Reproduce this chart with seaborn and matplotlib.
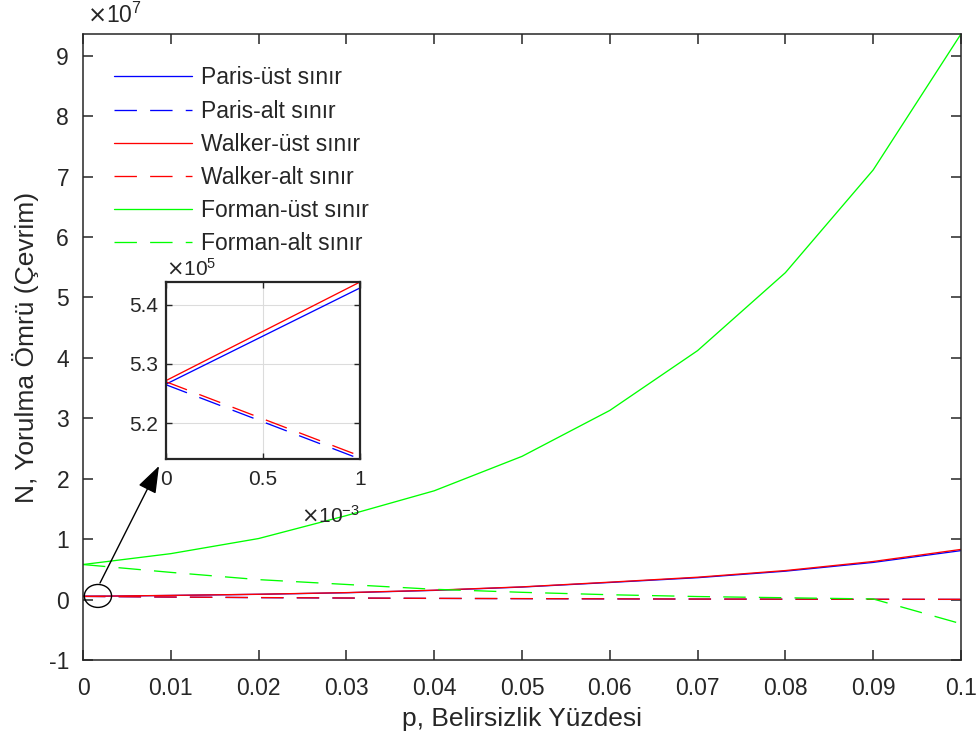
import numpy as np
import pandas as pd
import matplotlib
matplotlib.use("Agg")
import matplotlib.pyplot as plt
import seaborn as sns
from matplotlib.patches import Ellipse
from matplotlib.ticker import FuncFormatter

# ---------------- data ----------------
p = [0.0, 0.01, 0.02, 0.03, 0.04, 0.05, 0.06, 0.07, 0.08, 0.09, 0.10]
paris_ust = [0.0527, 0.068, 0.087, 0.113, 0.152, 0.207, 0.283, 0.362, 0.470, 0.615, 0.810]
paris_alt = [0.0526, 0.041, 0.032, 0.025, 0.019, 0.015, 0.011, 0.008, 0.006, 0.004, 0.003]
walker_ust = [0.0527, 0.069, 0.088, 0.115, 0.155, 0.210, 0.288, 0.370, 0.480, 0.630, 0.830]
walker_alt = [0.0527, 0.042, 0.033, 0.026, 0.020, 0.016, 0.012, 0.009, 0.007, 0.005, 0.004]
forman_ust = [0.58, 0.76, 1.01, 1.39, 1.80, 2.37, 3.13, 4.12, 5.41, 7.11, 9.36]
forman_alt = [0.58, 0.45, 0.33, 0.25, 0.17, 0.12, 0.08, 0.05, 0.03, 0.01, -0.40]
scale_main = 1e7

p_zoom = [0.0, 0.001]
paris_ust_z = [5.266, 5.428]
paris_alt_z = [5.265, 5.140]
walker_ust_z = [5.272, 5.438]
walker_alt_z = [5.270, 5.145]
scale_zoom = 1e5

labels = ["Paris-üst sınır", "Paris-alt sınır", "Walker-üst sınır",
          "Walker-alt sınır", "Forman-üst sınır", "Forman-alt sınır"]
xticks = [0, 0.01, 0.02, 0.03, 0.04, 0.05, 0.06, 0.07, 0.08, 0.09, 0.1]
yticks = [-1, 0, 1, 2, 3, 4, 5, 6, 7, 8, 9]
zxticks = [0, 0.5, 1]
zyticks = [5.2, 5.3, 5.4]

# ---------------- style ----------------
sns.set_theme(style="white")
plt.rcParams['font.family'] = ['Liberation Sans', 'DejaVu Sans']
plt.rcParams['axes.unicode_minus'] = False
plt.rcParams['axes.edgecolor'] = '#262626'
plt.rcParams['xtick.color'] = '#262626'
plt.rcParams['ytick.color'] = '#262626'
plt.rcParams['text.color'] = '#262626'
plt.rcParams['axes.labelcolor'] = '#262626'

BLUE, RED, GREEN = '#0000ff', '#ff0000', '#00ff00'
DASH = (0, (17, 10))
LW = 0.95
TXT = '#262626'

fig = plt.figure(figsize=(9.8, 7.45), dpi=100)
ax = fig.add_axes([0.0847, 0.1141, 0.8959, 0.8403])

series = [
    (paris_ust, BLUE, '-'), (paris_alt, BLUE, DASH),
    (walker_ust, RED, '-'), (walker_alt, RED, DASH),
    (forman_ust, GREEN, '-'), (forman_alt, GREEN, DASH),
]
for (vals, col, ls), lab in zip(series, labels):
    df = pd.DataFrame({"p": p, "N": np.array(vals) * scale_main})
    sns.lineplot(data=df, x="p", y="N", ax=ax, color=col, linestyle=ls,
                 linewidth=LW, label=lab, legend=False)

ax.set_xlim(0, 0.1)
ax.set_ylim(-1e7, 9.36e7)
ax.set_xticks(xticks)
ax.set_yticks(np.array(yticks) * scale_main)
ax.xaxis.set_major_formatter(FuncFormatter(lambda v, pos: ('%g' % round(v, 4))))
ax.yaxis.set_major_formatter(FuncFormatter(lambda v, pos: ('%g' % round(v / scale_main, 4))))
ax.text(0.005, 1.01, r'$\times\mathregular{10^{7}}$', transform=ax.transAxes,
        fontsize=16.5, ha='left', va='bottom', color=TXT)
for s in ax.spines.values():
    s.set_linewidth(1.1)
ax.tick_params(direction='in', length=7, width=1.1, labelsize=16.5, top=True, right=True,
               bottom=True, left=True)
ax.tick_params(axis='x', pad=12)
ax.tick_params(axis='y', pad=10)
ax.set_xlabel("p, Belirsizlik Yüzdesi", fontsize=19, labelpad=5)
ax.set_ylabel("N, Yorulma Ömrü (Çevrim)", fontsize=19, labelpad=7)

leg = ax.legend(loc='upper left', frameon=False, fontsize=16.5, handlelength=3.4,
                handletextpad=0.4, labelspacing=0.44, bbox_to_anchor=(0.012, 0.981))

# ellipse and arrow
ell = Ellipse((0.0017, 0.06e7), width=0.0031, height=0.38e7, fill=False,
              edgecolor='black', linewidth=1.0, transform=ax.transData, zorder=5)
ax.add_patch(ell)
ax.annotate("", xy=(159 / 980, 1 - 466 / 745), xycoords='figure fraction',
            xytext=(100 / 980, 1 - 583 / 745), textcoords='figure fraction',
            arrowprops=dict(arrowstyle='-|>,head_length=1.4,head_width=0.5',
                            color='black', lw=1.0, shrinkA=0, shrinkB=0))

# inset
axi = fig.add_axes([0.1694, 0.3839, 0.198, 0.2376])
zser = [(paris_ust_z, BLUE, '-'), (paris_alt_z, BLUE, DASH),
        (walker_ust_z, RED, '-'), (walker_alt_z, RED, DASH)]
for vals, col, ls in zser:
    dfz = pd.DataFrame({"p": p_zoom, "N": np.array(vals) * scale_zoom})
    sns.lineplot(data=dfz, x="p", y="N", ax=axi, color=col, linestyle=ls,
                 linewidth=LW, legend=False)
axi.set_xlim(0, 0.001)
axi.set_ylim(5.14e5, 5.438e5)
axi.set_xticks(np.array(zxticks) * 1e-3)
axi.set_yticks(np.array(zyticks) * scale_zoom)
axi.xaxis.set_major_formatter(FuncFormatter(lambda v, pos: ('%g' % round(v * 1e3, 4))))
axi.yaxis.set_major_formatter(FuncFormatter(lambda v, pos: ('%g' % round(v / scale_zoom, 4))))
axi.text(0.0, 1.015, r'$\times\mathregular{10^{5}}$', transform=axi.transAxes,
         fontsize=15, ha='left', va='bottom', color=TXT)
axi.text(1.0, -0.26, r'$\times\mathregular{10^{-3}}$', transform=axi.transAxes,
         fontsize=15, ha='right', va='top', color=TXT)
axi.grid(True, color='#dcdcdc', linewidth=0.8)
axi.set_xlabel("")
axi.set_ylabel("")
for s in axi.spines.values():
    s.set_linewidth(1.6)
axi.tick_params(direction='in', length=4, width=1, labelsize=15, top=True, right=True,
                bottom=True, left=True)
axi.tick_params(axis='x', pad=8)
axi.tick_params(axis='y', pad=6)

fig.savefig("out.png", dpi=100, facecolor='white')
